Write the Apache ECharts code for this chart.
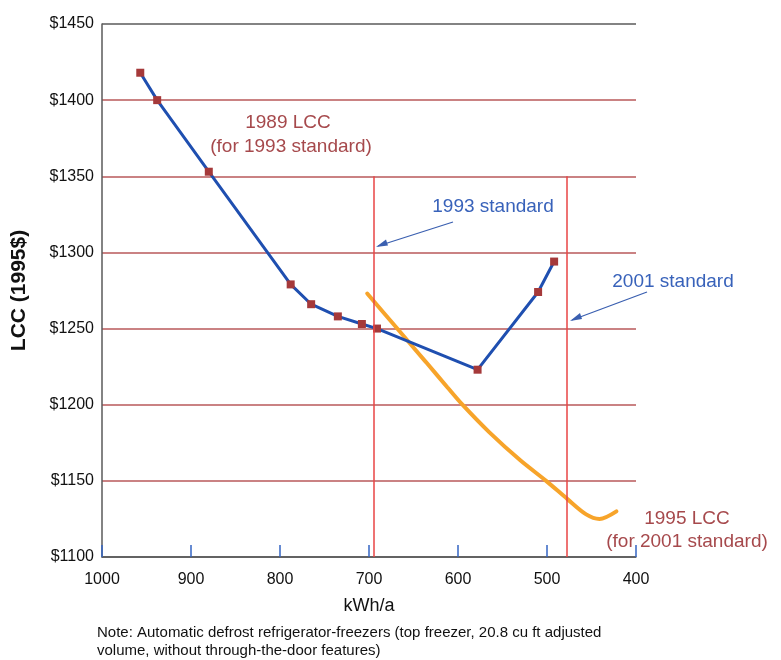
<!DOCTYPE html>
<html>
<head>
<meta charset="utf-8">
<script src="https://cdn.jsdelivr.net/npm/echarts@6/dist/echarts.min.js"></script>
<style>
html,body{margin:0;padding:0;background:#fff;}
#main{width:781px;height:660px;}
</style>
</head>
<body>
<div id="main"></div>
<script>
// ---- data ----
var lcc1989Kwh = [957, 938, 880, 788, 765, 735, 708, 691, 578, 510, 492];
var lcc1989Cost = [1418, 1400, 1353, 1279, 1266, 1258, 1253, 1250, 1223, 1274, 1294];

var lcc1995Kwh = [702, 669, 636, 612, 595, 565, 530, 501, 477, 456, 441, 422];
var lcc1995Cost = [1273, 1250.5, 1228, 1211.5, 1200, 1182, 1163.5, 1150, 1138, 1128, 1125, 1130];

var standardsKwh = [695, 478];   // 1993 standard, 2001 standard
var standardsTop = 1350;

var xTicks = [400, 500, 600, 700, 800, 900, 1000];
var yTicks = [1100, 1150, 1200, 1250, 1300, 1350, 1400, 1450];

function zip(a, b) { return a.map(function (v, i) { return [v, b[i]]; }); }

var chart = echarts.init(document.getElementById('main'));
var font = 'Liberation Sans, Arial, Helvetica, sans-serif';
var gridRed = '#b8585a';
var axisGrey = '#5a5a5a';

var splitColors = yTicks.map(function (v, i) {
  return (i === 0 || i === yTicks.length - 1) ? axisGrey : gridRed;
});

chart.setOption({
  backgroundColor: '#fff',
  animation: false,
  grid: { left: 102, right: 145, top: 24, bottom: 103 },
  xAxis: {
    type: 'value',
    inverse: true,
    min: xTicks[0],
    max: xTicks[xTicks.length - 1],
    interval: 100,
    name: 'kWh/a',
    nameLocation: 'middle',
    nameGap: 40,
    nameTextStyle: { fontFamily: font, fontSize: 18, color: '#111' },
    axisLine: { show: true, lineStyle: { color: axisGrey, width: 1.5 } },
    axisTick: { show: true, inside: true, length: 12, lineStyle: { color: '#3566c4', width: 1.5 } },
    axisLabel: { fontFamily: font, fontSize: 16, color: '#111', margin: 15,
      formatter: function (v) { return String(v); } },
    splitLine: { show: false }
  },
  yAxis: {
    type: 'value',
    min: yTicks[0],
    max: yTicks[yTicks.length - 1],
    interval: 50,
    name: 'LCC (1995$)',
    nameLocation: 'middle',
    nameGap: 72,
    nameRotate: 90,
    nameTextStyle: { fontFamily: font, fontSize: 21, fontWeight: 'bold', color: '#111' },
    axisLine: { show: true, lineStyle: { color: axisGrey, width: 1.5 } },
    axisTick: { show: false },
    axisLabel: {
      fontFamily: font, fontSize: 16, color: '#111', margin: 8,
      formatter: function (v) { return '$' + v; }
    },
    splitLine: { show: true, lineStyle: { color: splitColors, width: 1.5 } }
  },
  series: [
    {
      name: 'standards',
      type: 'line',
      data: [],
      silent: true,
      markLine: {
        silent: true,
        symbol: ['none', 'none'],
        label: { show: false },
        lineStyle: { color: '#e84545', width: 1.5, type: 'solid' },
        data: standardsKwh.map(function (k) {
          return [{ coord: [k, standardsTop] }, { coord: [k, yTicks[0]] }];
        })
      }
    },
    {
      name: '1995 LCC',
      type: 'line',
      data: zip(lcc1995Kwh, lcc1995Cost),
      smooth: 0.3,
      showSymbol: false,
      lineStyle: { color: '#f7a42a', width: 4, cap: 'round' },
      z: 3
    },
    {
      name: '1989 LCC',
      type: 'line',
      data: zip(lcc1989Kwh, lcc1989Cost),
      smooth: false,
      symbol: 'rect',
      symbolSize: 8,
      lineStyle: { color: '#1f4fb0', width: 3, join: 'round' },
      itemStyle: { color: '#a5393a', borderWidth: 0 },
      z: 4
    }
  ],
  graphic: [
    { type: 'text', x: 288, y: 123, style: { text: '1989 LCC', fontFamily: font, fontSize: 19, fill: '#a6494c', align: 'center', verticalAlign: 'middle' } },
    { type: 'text', x: 291, y: 147, style: { text: '(for 1993 standard)', fontFamily: font, fontSize: 19, fill: '#a6494c', align: 'center', verticalAlign: 'middle' } },
    { type: 'text', x: 493, y: 207, style: { text: '1993 standard', fontFamily: font, fontSize: 19, fill: '#3862ba', align: 'center', verticalAlign: 'middle' } },
    { type: 'text', x: 673, y: 282, style: { text: '2001 standard', fontFamily: font, fontSize: 19, fill: '#3862ba', align: 'center', verticalAlign: 'middle' } },
    { type: 'text', x: 687, y: 519, style: { text: '1995 LCC', fontFamily: font, fontSize: 19, fill: '#a6494c', align: 'center', verticalAlign: 'middle' } },
    { type: 'text', x: 687, y: 542, style: { text: '(for 2001 standard)', fontFamily: font, fontSize: 19, fill: '#a6494c', align: 'center', verticalAlign: 'middle' } },
    { type: 'line', shape: { x1: 453, y1: 222, x2: 378, y2: 246 }, style: { stroke: '#3a5fb0', lineWidth: 1.3 } },
    { type: 'polygon', shape: { points: [[376, 247], [386, 239.5], [388, 245.5]] }, style: { fill: '#3a5fb0' } },
    { type: 'line', shape: { x1: 647, y1: 292, x2: 572, y2: 320 }, style: { stroke: '#3a5fb0', lineWidth: 1.3 } },
    { type: 'polygon', shape: { points: [[570, 321], [580, 313], [582, 319]] }, style: { fill: '#3a5fb0' } },
    { type: 'text', x: 97, y: 633, style: { text: 'Note: Automatic defrost refrigerator-freezers (top freezer, 20.8 cu ft adjusted', fontFamily: font, fontSize: 15, fill: '#111', verticalAlign: 'middle' } },
    { type: 'text', x: 97, y: 651, style: { text: 'volume, without through-the-door features)', fontFamily: font, fontSize: 15, fill: '#111', verticalAlign: 'middle' } }
  ]
});
</script>
</body>
</html>
